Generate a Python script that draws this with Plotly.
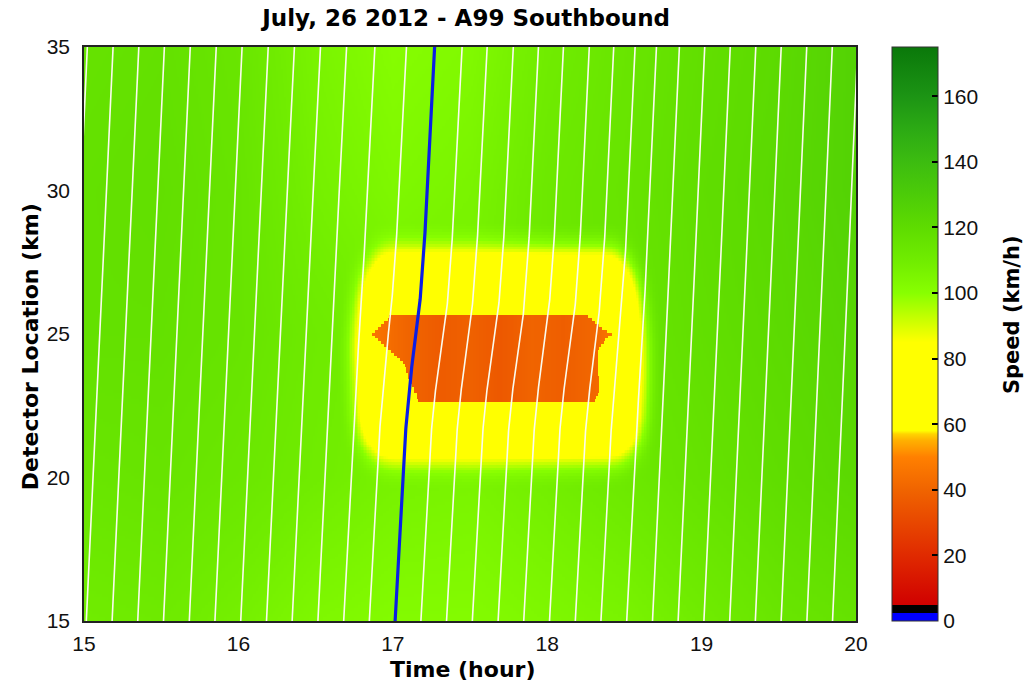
import numpy as np
import plotly.graph_objects as go

# ---------------------------------------------------------------
# Free-flow speed (km/h) at detector locations x time knots
# ---------------------------------------------------------------
ff_time_h = [15.0, 15.5, 16.0, 16.5, 17.0, 17.5, 18.0, 18.5, 19.0, 19.5, 20.0]
ff_loc_km = [15, 20, 25, 30, 35]
ff_speed_kmh = [
    [110, 111, 108, 104, 102, 102, 104, 106, 110, 114, 116],   # 15 km
    [114, 115, 113, 110, 107, 106, 109, 112, 116, 119, 122],   # 20 km
    [117, 117, 115, 111, 108, 108, 112, 114, 118, 121, 124],   # 25 km
    [117, 118, 115, 108, 104, 106, 112, 115, 119, 122, 126],   # 30 km
    [116, 117, 114, 106, 101, 103, 110, 114, 118, 121, 126],   # 35 km
]

# Congested core (stop-and-go queue) boundaries per location
queue_loc_km = [22.7, 23.0, 23.5, 24.0, 24.5, 25.0, 25.3, 25.6]
queue_start_h = [17.17, 17.14, 17.10, 17.07, 16.97, 16.87, 16.93, 16.98]
queue_end_h = [18.30, 18.33, 18.33, 18.32, 18.33, 18.41, 18.33, 18.26]
queue_time_h = [16.87, 17.10, 17.30, 17.50, 17.70, 17.90, 18.10, 18.30, 18.41]
queue_speed_kmh = [46, 40, 37, 39, 36, 40, 38, 41, 46]

# Slowdown zone surrounding the queue
halo_loc_km = [20.7, 21.2, 22.0, 23.0, 24.0, 25.0, 26.0, 27.0, 27.8]
halo_start_h = [16.92, 16.82, 16.78, 16.77, 16.76, 16.76, 16.78, 16.82, 16.92]
halo_end_h = [18.48, 18.58, 18.61, 18.62, 18.62, 18.62, 18.60, 18.56, 18.46]
halo_speed_kmh = 64

# Probe vehicles entering at 15 km (every ten minutes)
departure_h = [14.848, 15.015, 15.182, 15.348, 15.515, 15.682, 15.848, 16.015,
               16.182, 16.348, 16.515, 16.682, 16.848, 17.015, 17.182, 17.348,
               17.515, 17.682, 17.848, 18.015, 18.182, 18.348, 18.515, 18.682,
               18.848, 19.015, 19.182, 19.348, 19.515, 19.682, 19.848]
highlight_departure_h = 17.015

# Speed colour map (km/h -> colour)
cmap_speed = [0, 2.4, 2.4, 4.8, 4.8, 20, 40, 50, 52, 55, 57, 58, 85, 90, 95,
              100, 110, 120, 130, 140, 150, 160, 175]
cmap_color = ["#0000ff", "#0000ff", "#000000", "#000000", "#d00000", "#e02a00",
              "#f06400", "#ff8000", "#ff9400", "#ffb000", "#ffd400", "#ffff00",
              "#ffff00", "#d8ff00", "#b0ff00", "#88ff00", "#70ec00", "#5edc00",
              "#4ccc08", "#3cbc10", "#2caa14", "#1c9414", "#0a780a"]
speed_max = 175
cbar_ticks = [0, 20, 40, 60, 80, 100, 120, 140, 160]

# ---------------------------------------------------------------
# Speed field on a fine time/location grid
# ---------------------------------------------------------------
dt_grid, dx_grid = 0.01, 0.1
t = np.round(np.arange(15.0, 20.0 + 1e-9, dt_grid), 4)
x = np.round(np.arange(15.0, 35.0 + 1e-9, dx_grid), 4)

rows_t = np.array([np.interp(t, ff_time_h, r) for r in ff_speed_kmh])
bg = np.array([np.interp(x, ff_loc_km, rows_t[:, j]) for j in range(len(t))]).T

mask = np.zeros_like(bg)
for i, xi in enumerate(x):
    if halo_loc_km[0] <= xi <= halo_loc_km[-1]:
        hs = np.interp(xi, halo_loc_km, halo_start_h)
        he = np.interp(xi, halo_loc_km, halo_end_h)
        mask[i, (t >= hs) & (t <= he)] = 1.0


def box_blur(a, n, axis):
    k = np.ones(n) / n
    pad = n // 2
    a = np.moveaxis(a, axis, -1)
    widths = [(0, 0)] * (a.ndim - 1) + [(pad, n - 1 - pad)]
    ap = np.pad(a, widths, mode="edge")
    out = np.apply_along_axis(lambda r: np.convolve(r, k, mode="valid"), -1, ap)
    return np.moveaxis(out, -1, axis)


soft = mask
for _ in range(2):
    soft = box_blur(soft, 13, axis=1)
    soft = box_blur(soft, 11, axis=0)

speed = bg * (1 - soft) + halo_speed_kmh * soft

core_speed_t = np.interp(t, queue_time_h, queue_speed_kmh)
for i, xi in enumerate(x):
    if queue_loc_km[0] <= xi <= queue_loc_km[-1]:
        qs = np.interp(xi, queue_loc_km, queue_start_h)
        qe = np.interp(xi, queue_loc_km, queue_end_h)
        sel = (t >= qs) & (t <= qe)
        speed[i, sel] = core_speed_t[sel]

speed = np.round(speed, 1)


# ---------------------------------------------------------------
# Vehicle trajectories integrated through the speed field
# ---------------------------------------------------------------
def field_at(tq, xq):
    i = np.clip(np.round((xq - 15.0) / dx_grid).astype(int), 0, len(x) - 1)
    j = np.clip(np.round((tq - 15.0) / dt_grid).astype(int), 0, len(t) - 1)
    return speed[i, j]


step = 0.0005
tt = np.array(departure_h, dtype=float)
xx = np.full(len(departure_h), 15.0)
hist_t, hist_x = [tt.copy()], [xx.copy()]
while np.any(xx < 35.0):
    v = field_at(tt, xx)
    active = xx < 35.0
    xx = np.where(active, xx + v * step, xx)
    tt = np.where(active, tt + step, tt)
    hist_t.append(tt.copy())
    hist_x.append(xx.copy())
hist_t = np.array(hist_t)
hist_x = np.array(hist_x)

white_t, white_x = [], []
blue_t, blue_x = [], []
for k, dep in enumerate(departure_h):
    n_end = int(np.argmax(hist_x[:, k] >= 35.0)) + 1
    tk = hist_t[:n_end:3, k].tolist() + [hist_t[n_end - 1, k]]
    xk = hist_x[:n_end:3, k].tolist() + [hist_x[n_end - 1, k]]
    if abs(dep - highlight_departure_h) < 1e-6:
        blue_t, blue_x = tk, xk
    else:
        white_t += tk + [None]
        white_x += xk + [None]

# ---------------------------------------------------------------
# Figure
# ---------------------------------------------------------------
colorscale = [[s / speed_max, c] for s, c in zip(cmap_speed, cmap_color)]

W, H = 1026, 688
ml, mr, mt, mb = 84, 170, 47, 67
plot_w = W - ml - mr
cb_left_px = 892
cb_x = (cb_left_px - ml) / plot_w
cb_thick = 46

fig = go.Figure()
fig.add_trace(go.Heatmap(
    x=t, y=x, z=speed,
    zmin=0, zmax=speed_max,
    colorscale=colorscale,
    zsmooth=False,
    hoverinfo="skip",
    colorbar=dict(
        x=cb_x, xanchor="left", xpad=0, ypad=0,
        y=0.5, yanchor="middle", len=1, lenmode="fraction",
        thickness=cb_thick, thicknessmode="pixels",
        outlinecolor="#333333", outlinewidth=1,
        tickvals=cbar_ticks, ticks="inside", ticklen=6, tickcolor="#000000",
        tickwidth=1.5,
        tickfont=dict(family="Liberation Sans", size=21, color="#111111"),
    ),
))
fig.add_trace(go.Scatter(
    x=white_t, y=white_x, mode="lines",
    line=dict(color="#fbfbee", width=1.6),
    hoverinfo="skip", showlegend=False,
))
fig.add_trace(go.Scatter(
    x=blue_t, y=blue_x, mode="lines",
    line=dict(color="#0a1ee6", width=3.2),
    hoverinfo="skip", showlegend=False,
))

# tick marks on the left edge of the colour bar
for v in cbar_ticks[1:]:
    fig.add_shape(type="line", xref="paper", yref="paper",
                  x0=cb_x, x1=cb_x + 6 / plot_w, y0=v / speed_max, y1=v / speed_max,
                  line=dict(color="#000000", width=1.5))

bold = dict(family="DejaVu Sans", size=22, color="#000000", weight="bold")
fig.add_annotation(text="Time (hour)", xref="paper", yref="paper",
                   x=0.49, y=-48 / 574, xanchor="center", yanchor="middle",
                   showarrow=False, font=bold)
fig.add_annotation(text="Detector Location (km)", xref="paper", yref="paper",
                   x=-54 / plot_w, y=0.477, xanchor="center", yanchor="middle",
                   textangle=-90, showarrow=False, font=bold)
fig.add_annotation(text="Speed (km/h)", xref="paper", yref="paper",
                   x=(1012 - ml) / plot_w, y=0.533, xanchor="center", yanchor="middle",
                   textangle=-90, showarrow=False,
                   font=dict(family="DejaVu Sans", size=21, color="#000000", weight="bold"))

axis_font = dict(family="Liberation Sans", size=21, color="#111111")
fig.update_layout(
    width=W, height=H,
    margin=dict(l=ml, r=mr, t=mt, b=mb),
    paper_bgcolor="#ffffff", plot_bgcolor="#ffffff",
    showlegend=False,
    title=dict(text="July, 26 2012 - A99 Southbound",
               x=0.495, xref="paper", xanchor="center",
               y=1 - 18 / H, yref="container", yanchor="middle",
               font=dict(family="DejaVu Sans", size=23, color="#000000", weight="bold")),
    xaxis=dict(range=[15, 20], tickvals=[15, 16, 17, 18, 19, 20],
               showline=True, mirror=True, linecolor="#222222", linewidth=1.5,
               ticks="", showgrid=False, zeroline=False, tickfont=axis_font,
               ticklabelstandoff=3),
    yaxis=dict(range=[15, 35], tickvals=[15, 20, 25, 30, 35],
               showline=True, mirror=True, linecolor="#222222", linewidth=1.5,
               ticks="", showgrid=False, zeroline=False, tickfont=axis_font,
               ticklabelstandoff=8),
)

fig.write_html("out.html")
